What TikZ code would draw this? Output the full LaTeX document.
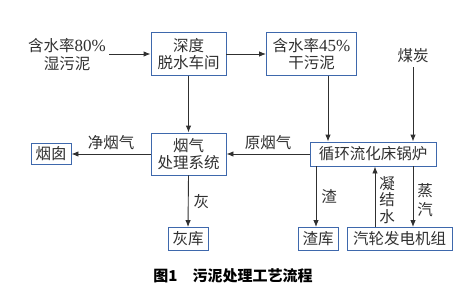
\documentclass[tikz,border=0pt]{standalone}
\usepackage{fontspec}
\setmainfont{Noto Sans CJK SC}
\newfontfamily\latinserif{Liberation Serif}
\usetikzlibrary{arrows.meta}
\definecolor{boxblue}{RGB}{62,104,172}
\definecolor{inkgray}{RGB}{48,48,48}
\tikzstyle{proc-box} = [draw=boxblue, line width=0.9pt, fill=white,
    rectangle, inner sep=1pt, align=center, text=inkgray,
    font=\fontsize{15.5}{17}\selectfont]
\tikzstyle{flow-label} = [text=inkgray, align=center, inner sep=1pt,
    font=\fontsize{15.5}{16.5}\selectfont]
\tikzstyle{flow-arrow} = [draw=inkgray, line width=0.9pt,
    -{Latex[length=7pt,width=5.5pt]}]
\newcommand{\num}[1]{{\latinserif\fontsize{17}{17}\selectfont #1}}

\begin{document}
\begin{tikzpicture}[x=1pt,y=-1pt]
\useasboundingbox (0,0) rectangle (468,306);
% process boxes
\node [proc-box, minimum width=75pt, minimum height=43pt] (deep) at (188.5,54) {深度\\脱水车间};
\node [proc-box, minimum width=90pt, minimum height=43pt] (dry) at (311.5,54) {含水率\num{45\%}\\干污泥};
\node [proc-box, minimum width=75pt, minimum height=42pt] (flue) at (188.5,154) {烟气\\处理系统};
\node [proc-box, minimum width=126pt, minimum height=24pt] (boiler) at (373,154) {循环流化床锅炉};
\node [proc-box, minimum width=40pt, minimum height=21pt] (chimney) at (51,154) {烟囱};
\node [proc-box, minimum width=40pt, minimum height=23pt] (ash) at (188,239) {灰库};
\node [proc-box, minimum width=40pt, minimum height=23pt] (slag) at (318,239) {渣库};
\node [proc-box, minimum width=105pt, minimum height=23pt] (turbine) at (399.5,239) {汽轮发电机组};
% free texts
\node [flow-label, font=\fontsize{15.5}{18}\selectfont, inner sep=4pt] (wet) at (67,55) {含水率\num{80\%}\\湿污泥};
\node [flow-label, inner sep=4pt] (coal) at (413,56) {煤炭};
% connectors
\draw [flow-arrow] ([xshift=-1pt]wet.east |- deep.west) -- (deep.west);
\draw [flow-arrow] (deep.east) -- (dry.west);
\draw [flow-arrow] (deep.south) -- (flue.north);
\draw [flow-arrow] ([xshift=16.5pt]dry.south) -- ([xshift=-45pt]boiler.north);
\draw [flow-arrow] (coal.south) -- (coal.south |- boiler.north);
\draw [flow-arrow] (boiler.west) -- (boiler.west -| flue.east)
    node [flow-label, midway, above=3pt] (rawgas) {原烟气};
\draw [flow-arrow] (flue.west |- chimney.east) -- (chimney.east)
    node [flow-label, midway, above=3pt] (cleangas) {净烟气};
\draw [flow-arrow] (flue.south) -- (ash.north)
    node [flow-label, midway, right=4pt] (ashlbl) {灰};
\draw [flow-arrow] ([xshift=-57pt]boiler.south) -- ([xshift=-2pt]slag.north)
    node [flow-label, midway, right=4pt] (slaglbl) {渣};
\draw [flow-arrow] ([xshift=-24.5pt]turbine.north) -- ([xshift=2pt]boiler.south)
    node [flow-label, pos=0.45, right=3pt] (waterlbl) {凝\\结\\水};
\draw [flow-arrow] ([xshift=40pt]boiler.south) -- ([xshift=13.5pt]turbine.north)
    node [flow-label, pos=0.55, right=3pt, font=\fontsize{15.5}{19}\selectfont] (steamlbl) {蒸\\汽};
% caption
\node [font=\bfseries\fontsize{15}{16}\selectfont] (caption) at (233,276) {图1\quad 污泥处理工艺流程};
\end{tikzpicture}
\end{document}
